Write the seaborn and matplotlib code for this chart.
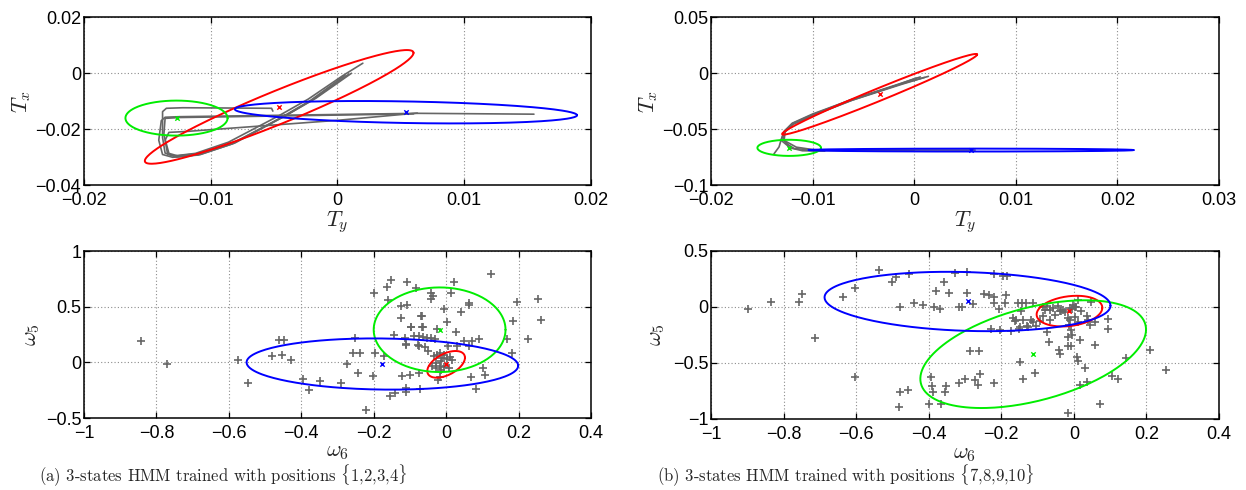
import numpy as np
import pandas as pd
import matplotlib
matplotlib.use("Agg")
import matplotlib.pyplot as plt
import seaborn as sns

sns.set_theme(style="white")
plt.rcParams["font.family"] = ["Liberation Sans", "DejaVu Sans"]
plt.rcParams["mathtext.fontset"] = "cm"
plt.rcParams["axes.unicode_minus"] = True

MINUS = "\u2212"

# ---------------------------------------------------------------- colours
STATE_COLORS = {"red": (1.0, 0.0, 0.0), "green": (0.0, 0.93, 0.0), "blue": (0.0, 0.0, 1.0)}
GRAY = (0.40, 0.40, 0.40)

# ---------------------------------------------------------------- panel (a) top: translation trajectories (T_y, T_x)
tl_traj_1_ty = [0.0020, 0.0004, -0.0023, -0.0046, -0.0086, -0.0112, -0.0129, -0.0136, -0.0138, -0.0138, -0.0135, -0.0122, -0.0052, -0.0051]
tl_traj_1_tx = [0.0035, -0.0010, -0.0093, -0.0152, -0.0247, -0.0287, -0.0296, -0.0286, -0.0230, -0.0138, -0.0126, -0.0124, -0.0126, -0.0136]
tl_traj_2_ty = [0.0006, -0.0021, -0.0044, -0.0083, -0.0110, -0.0130, -0.0138, -0.0141, -0.0139, -0.0136, -0.0125, 0.0064, 0.0155]
tl_traj_2_tx = [-0.0008, -0.0097, -0.0158, -0.0253, -0.0293, -0.0301, -0.0291, -0.0240, -0.0170, -0.0158, -0.0156, -0.0144, -0.0147]
tl_traj_3_ty = [0.0009, -0.0019, -0.0042, -0.0081, -0.0108, -0.0127, -0.0134, -0.0136, -0.0133, -0.0120, 0.0000, 0.0063]
tl_traj_3_tx = [-0.0004, -0.0094, -0.0155, -0.0250, -0.0291, -0.0300, -0.0290, -0.0240, -0.0212, -0.0209, -0.0169, -0.0143]
tl_traj_4_ty = [0.0011, -0.0017, -0.0040, -0.0080, -0.0107, -0.0126, -0.0133, -0.0137, -0.0136, -0.0125, 0.0060]
tl_traj_4_tx = [-0.0001, -0.0090, -0.0150, -0.0244, -0.0286, -0.0296, -0.0287, -0.0220, -0.0162, -0.0159, -0.0146]

# Gaussian states of panel (a) top: mean (T_y, T_x), std T_y, std T_x, correlation
tl_state_names = ["red", "green", "blue"]
tl_means = [(-0.0046, -0.0121), (-0.0127, -0.0161), (0.0054, -0.0140)]
tl_std_ty = [0.0106, 0.00403, 0.0135]
tl_std_tx = [0.0203, 0.00625, 0.0040]
tl_rho = [0.95, 0.0, -0.27]

# ---------------------------------------------------------------- panel (b) top
tr_traj_1_ty = [0.0014, -0.0010, -0.0060, -0.0100, -0.0120, -0.0128, -0.0131, -0.0133, -0.0138]
tr_traj_1_tx = [-0.0030, -0.0090, -0.0232, -0.0366, -0.0448, -0.0520, -0.0598, -0.0660, -0.0722]
tr_traj_2_ty = [0.0010, -0.0012, -0.0061, -0.0099, -0.0119, -0.0127, -0.0129, -0.0124, -0.0118, -0.0100, 0.0060]
tr_traj_2_tx = [-0.0040, -0.0100, -0.0243, -0.0377, -0.0457, -0.0526, -0.0596, -0.0640, -0.0675, -0.0686, -0.0688]
tr_traj_3_ty = [0.0006, -0.0014, -0.0062, -0.0100, -0.0120, -0.0127, -0.0128, -0.0116, -0.0095, 0.0000]
tr_traj_3_tx = [-0.0035, -0.0095, -0.0238, -0.0372, -0.0452, -0.0522, -0.0602, -0.0662, -0.0690, -0.0693]
tr_traj_4_ty = [0.0002, -0.0016, -0.0063, -0.0101, -0.0121, -0.0128, -0.0131, -0.0122, -0.0110, -0.0088]
tr_traj_4_tx = [-0.0045, -0.0105, -0.0248, -0.0382, -0.0462, -0.0530, -0.0600, -0.0668, -0.0694, -0.0697]

tr_state_names = ["red", "green", "blue"]
tr_means = [(-0.0034, -0.0190), (-0.0123, -0.0668), (0.0056, -0.0688)]
tr_std_ty = [0.0096, 0.00313, 0.0160]
tr_std_tx = [0.0360, 0.0072, 0.0013]
tr_rho = [0.986, 0.0, 0.0]

# ---------------------------------------------------------------- panel (a) bottom: angular velocities (w6, w5)
bl_w6 = [-0.843, -0.771, -0.574, -0.548, -0.461, -0.448, -0.481, -0.453, -0.429, -0.394, -0.379, -0.347,
         -0.290, -0.274, -0.251, -0.256, -0.238, -0.244, -0.221, -0.203, -0.197, -0.172,
         -0.198, -0.163, -0.152, -0.160, -0.108, -0.082, -0.124, -0.108, -0.124, -0.097, -0.066, -0.064,
         -0.145, -0.114, -0.110, -0.074, -0.122, -0.099, -0.076, -0.154, -0.142, -0.110, -0.110, -0.073,
         -0.041, -0.037, -0.041, 0.021, 0.014, 0.124, -0.006, 0.062, 0.064, 0.040, 0.195, 0.255, 0.263,
         0.184, 0.226, 0.168, 0.182, -0.068, 0.003, -0.098, -0.066, -0.025, 0.026, -0.089, -0.075, -0.063,
         -0.052, -0.041, -0.032, -0.112, -0.078, -0.057, -0.050, 0.006, 0.030, 0.050, 0.062, 0.072, 0.090,
         -0.034, -0.025, -0.017, -0.011, -0.005, 0.003, 0.010, 0.017, -0.014, -0.027, -0.039, -0.029,
         -0.017, -0.014, -0.005, 0.007, -0.023, -0.016, 0.068, 0.106, 0.102, 0.083]
bl_w5 = [0.188, -0.015, 0.024, -0.185, 0.197, 0.197, 0.054, 0.069, 0.018, -0.149, -0.245, -0.164,
         -0.185, -0.015, 0.218, 0.084, 0.084, -0.096, -0.430, -0.125, 0.084, 0.054,
         0.621, 0.681, 0.741, 0.556, 0.726, 0.672, 0.502, 0.517, 0.397, 0.317, 0.412, 0.317,
         0.248, 0.218, 0.158, 0.149, -0.125, -0.111, -0.096, -0.299, -0.275, -0.269, -0.233, -0.239,
         0.621, 0.598, 0.568, 0.720, 0.627, 0.792, 0.481, 0.532, 0.511, 0.451, 0.541, 0.571, 0.382,
         0.373, 0.209, 0.212, 0.084, 0.412, 0.362, 0.314, 0.314, 0.302, 0.269, 0.233, 0.239, 0.230,
         0.218, 0.218, 0.212, 0.164, 0.155, 0.134, 0.099, 0.149, 0.149, 0.188, 0.143, 0.188, 0.209,
         0.054, 0.069, 0.084, 0.039, 0.063, 0.030, 0.048, 0.018, 0.009, -0.006, -0.036, -0.051,
         -0.030, -0.066, -0.042, -0.051, -0.155, -0.134, -0.131, -0.117, -0.051, -0.239]

bl_state_names = ["red", "green", "blue"]
bl_means = [(0.000, -0.018), (-0.018, 0.293), (-0.176, -0.015)]
bl_std_w6 = [0.052, 0.182, 0.375]
bl_std_w5 = [0.120, 0.380, 0.230]
bl_rho = [0.50, 0.0, -0.065]

# ---------------------------------------------------------------- panel (b) bottom
br_w6 = [-0.899, -0.835, -0.757, -0.748, -0.713, -0.635, -0.602, -0.602, -0.537, -0.500, -0.491, -0.478,
         -0.455, -0.441, -0.416, -0.384, -0.368, -0.379, -0.358, -0.345, -0.327, -0.316, -0.308, -0.295,
         -0.294, -0.279, -0.248, -0.233, -0.220, -0.219, -0.219, -0.205, -0.228, -0.203,
         -0.285, -0.260, -0.258, -0.221, -0.393, -0.391, -0.389, -0.398, -0.366, -0.353, -0.354, -0.316,
         -0.299, -0.272, -0.265, -0.480, -0.456, -0.483,
         -0.195, -0.185, -0.187, -0.190, -0.153, -0.144, -0.132, -0.112, -0.084, -0.080, -0.146, -0.167,
         -0.158, -0.162, -0.139, -0.119, -0.112, -0.130, -0.149, -0.103, -0.094, -0.172, -0.150, -0.126,
         -0.075, -0.066, -0.057, -0.039, -0.034, -0.029, -0.043, -0.025, -0.011, -0.006, 0.003, 0.007,
         -0.002, 0.012, 0.021, 0.046, -0.084, -0.066, -0.052, -0.016, -0.011, 0.003, 0.012, 0.035, 0.039,
         0.044, 0.058, 0.094, 0.094, -0.013, -0.009, -0.006, -0.016, -0.075, -0.068, -0.040, -0.039,
         -0.016, -0.009, 0.018, 0.010, 0.012, 0.032, 0.017, 0.035, 0.058, 0.072, -0.016, 0.104, 0.122,
         0.143, 0.209, 0.255, -0.149, -0.141, -0.107]
br_w5 = [-0.018, 0.042, 0.048, 0.116, -0.277, 0.089, 0.170, -0.628, 0.333, 0.223, 0.265, -0.003,
         0.292, 0.036, 0.015, -0.003, -0.018, 0.143, 0.223, 0.125, 0.307, -0.003, -0.003, 0.315,
         0.125, 0.027, 0.116, 0.104, 0.292, 0.086, 0.036, -0.018, -0.193, -0.208,
         -0.396, -0.393, -0.598, -0.679, -0.628, -0.708, -0.762, -0.863, -0.863, -0.708, -0.759, -0.679,
         -0.640, -0.649, -0.693, -0.762, -0.744, -0.896,
         0.274, 0.274, 0.110, 0.036, 0.036, 0.036, 0.036, 0.036, 0.000, -0.024, -0.039, -0.098,
         -0.113, -0.128, -0.113, -0.113, -0.137, -0.167, -0.179, -0.167, -0.128, -0.217, -0.193, -0.182,
         0.006, -0.024, -0.009, -0.033, -0.039, -0.024, 0.006, -0.045, -0.009, -0.018, 0.000, -0.003,
         0.021, 0.065, -0.039, 0.045, -0.083, -0.119, -0.074, -0.098, -0.119, -0.092, -0.137, -0.077, -0.113,
         -0.158, -0.134, -0.107, -0.193, -0.158, -0.202, -0.247, -0.268, -0.226, -0.315, -0.381, -0.417,
         -0.351, -0.351, -0.292, -0.446, -0.485, -0.545, -0.699, -0.673, -0.342, -0.866, -0.946, -0.619, -0.640,
         -0.455, -0.381, -0.560, -0.494, -0.640, -0.592]

br_state_names = ["red", "green", "blue"]
br_means = [(-0.012, -0.037), (-0.112, -0.421), (-0.293, 0.049)]
br_std_w6 = [0.0905, 0.311, 0.394]
br_std_w5 = [0.137, 0.481, 0.265]
br_rho = [0.22, 0.458, -0.14]

# ---------------------------------------------------------------- axes ticks
tl_xticks = [-0.02, -0.01, 0.0, 0.01, 0.02]
tl_xticklabels = [MINUS + "0.02", MINUS + "0.01", "0", "0.01", "0.02"]
tl_yticks = [0.02, 0.0, -0.02, -0.04]
tl_yticklabels = ["0.02", "0", MINUS + "0.02", MINUS + "0.04"]

tr_xticks = [-0.02, -0.01, 0.0, 0.01, 0.02, 0.03]
tr_xticklabels = [MINUS + "0.02", MINUS + "0.01", "0", "0.01", "0.02", "0.03"]
tr_yticks = [0.05, 0.0, -0.05, -0.1]
tr_yticklabels = ["0.05", "0", MINUS + "0.05", MINUS + "0.1"]

w6_ticks = [-1.0, -0.8, -0.6, -0.4, -0.2, 0.0, 0.2, 0.4]
w6_ticklabels = [MINUS + "1", MINUS + "0.8", MINUS + "0.6", MINUS + "0.4", MINUS + "0.2", "0", "0.2", "0.4"]
bl_yticks = [1.0, 0.5, 0.0, -0.5]
bl_yticklabels = ["1", "0.5", "0", MINUS + "0.5"]
br_yticks = [0.5, 0.0, -0.5, -1.0]
br_yticklabels = ["0.5", "0", MINUS + "0.5", MINUS + "1"]

captions = ["(a) 3-states HMM trained with positions $\\{$1,2,3,4$\\}$",
            "(b) 3-states HMM trained with positions $\\{$7,8,9,10$\\}$"]


def ellipse_points(mean, sx, sy, rho, n=240):
    """One-sigma contour of a 2-D Gaussian."""
    cov = np.array([[sx * sx, rho * sx * sy], [rho * sx * sy, sy * sy]])
    chol = np.linalg.cholesky(cov)
    t = np.linspace(0.0, 2.0 * np.pi, n)
    pts = np.asarray(mean) + (chol @ np.vstack([np.cos(t), np.sin(t)])).T
    return pts[:, 0], pts[:, 1]


def draw_states(ax, names, means, sdx, sdy, rhos):
    for name, m, a, b, r in zip(names, means, sdx, sdy, rhos):
        ex, ey = ellipse_points(m, a, b, r)
        sns.lineplot(x=ex, y=ey, sort=False, estimator=None, color=STATE_COLORS[name],
                     linewidth=1.4, ax=ax)
    for name, m in zip(names, means):
        sns.scatterplot(x=[m[0]], y=[m[1]], marker="x", s=10, linewidth=1.0,
                        color=STATE_COLORS[name], ax=ax, zorder=5)


def draw_trajectories(ax, runs):
    frames = []
    for k, (ty, tx) in enumerate(runs):
        frames.append(pd.DataFrame({"Ty": ty, "Tx": tx, "run": k}))
    df = pd.concat(frames, ignore_index=True)
    sns.lineplot(data=df, x="Ty", y="Tx", units="run", estimator=None, sort=False,
                 color=GRAY, linewidth=1.2, ax=ax)


def style_axes(ax, xlim, ylim, xticks, xlabels, yticks, ylabels, xlab, ylab, ylab_x):
    ax.set_xlim(*xlim)
    ax.set_ylim(*ylim)
    ax.set_xticks(xticks, xlabels)
    ax.set_yticks(yticks, ylabels)
    ax.grid(True, linestyle=(0, (1, 2)), color="0.55", linewidth=0.8)
    ax.set_axisbelow(True)
    for sp in ax.spines.values():
        sp.set_color("black")
        sp.set_linewidth(1.1)
        sp.set_visible(True)
    ax.tick_params(direction="in", length=4, width=0.9, color="black", labelsize=13,
                   bottom=True, left=True, top=True, right=True, labelcolor="black")
    ax.tick_params(axis="x", pad=5)
    ax.tick_params(axis="y", pad=2)
    ax.set_xlabel(xlab, fontsize=16)
    ax.set_ylabel(ylab, fontsize=16)
    ax.xaxis.set_label_coords(0.5, -0.14)
    ax.yaxis.set_label_coords(ylab_x, 0.5)


fig = plt.figure(figsize=(12.46, 4.90), dpi=100)
ax_tl = fig.add_axes([0.0674, 0.6224, 0.4069, 0.3429])
ax_tr = fig.add_axes([0.5706, 0.6224, 0.4077, 0.3429])
ax_bl = fig.add_axes([0.0674, 0.1469, 0.4069, 0.3408])
ax_br = fig.add_axes([0.5706, 0.1449, 0.4077, 0.3429])

# translations
draw_trajectories(ax_tl, [(tl_traj_1_ty, tl_traj_1_tx), (tl_traj_2_ty, tl_traj_2_tx),
                          (tl_traj_3_ty, tl_traj_3_tx), (tl_traj_4_ty, tl_traj_4_tx)])
draw_states(ax_tl, tl_state_names, tl_means, tl_std_ty, tl_std_tx, tl_rho)
style_axes(ax_tl, (-0.02, 0.02), (-0.04, 0.02), tl_xticks, tl_xticklabels, tl_yticks, tl_yticklabels,
           r"$T_y$", r"$T_x$", -0.10)

draw_trajectories(ax_tr, [(tr_traj_1_ty, tr_traj_1_tx), (tr_traj_2_ty, tr_traj_2_tx),
                          (tr_traj_3_ty, tr_traj_3_tx), (tr_traj_4_ty, tr_traj_4_tx)])
draw_states(ax_tr, tr_state_names, tr_means, tr_std_ty, tr_std_tx, tr_rho)
style_axes(ax_tr, (-0.02, 0.03), (-0.1, 0.05), tr_xticks, tr_xticklabels, tr_yticks, tr_yticklabels,
           r"$T_y$", r"$T_x$", -0.10)

# angular velocities
sns.scatterplot(x=bl_w6, y=bl_w5, marker="+", s=30, linewidth=1.2, color=GRAY, ax=ax_bl)
draw_states(ax_bl, bl_state_names, bl_means, bl_std_w6, bl_std_w5, bl_rho)
style_axes(ax_bl, (-1.0, 0.4), (-0.5, 1.0), w6_ticks, w6_ticklabels, bl_yticks, bl_yticklabels,
           r"$\omega_6$", r"$\omega_5$", -0.083)

sns.scatterplot(x=br_w6, y=br_w5, marker="+", s=30, linewidth=1.2, color=GRAY, ax=ax_br)
draw_states(ax_br, br_state_names, br_means, br_std_w6, br_std_w5, br_rho)
style_axes(ax_br, (-1.0, 0.4), (-1.0, 0.5), w6_ticks, w6_ticklabels, br_yticks, br_yticklabels,
           r"$\omega_6$", r"$\omega_5$", -0.087)

fig.text(0.179, 0.030, captions[0], family="cmr10", fontsize=12, ha="center", va="center")
fig.text(0.679, 0.030, captions[1], family="cmr10", fontsize=12, ha="center", va="center")

fig.savefig("out.png", dpi=100)
